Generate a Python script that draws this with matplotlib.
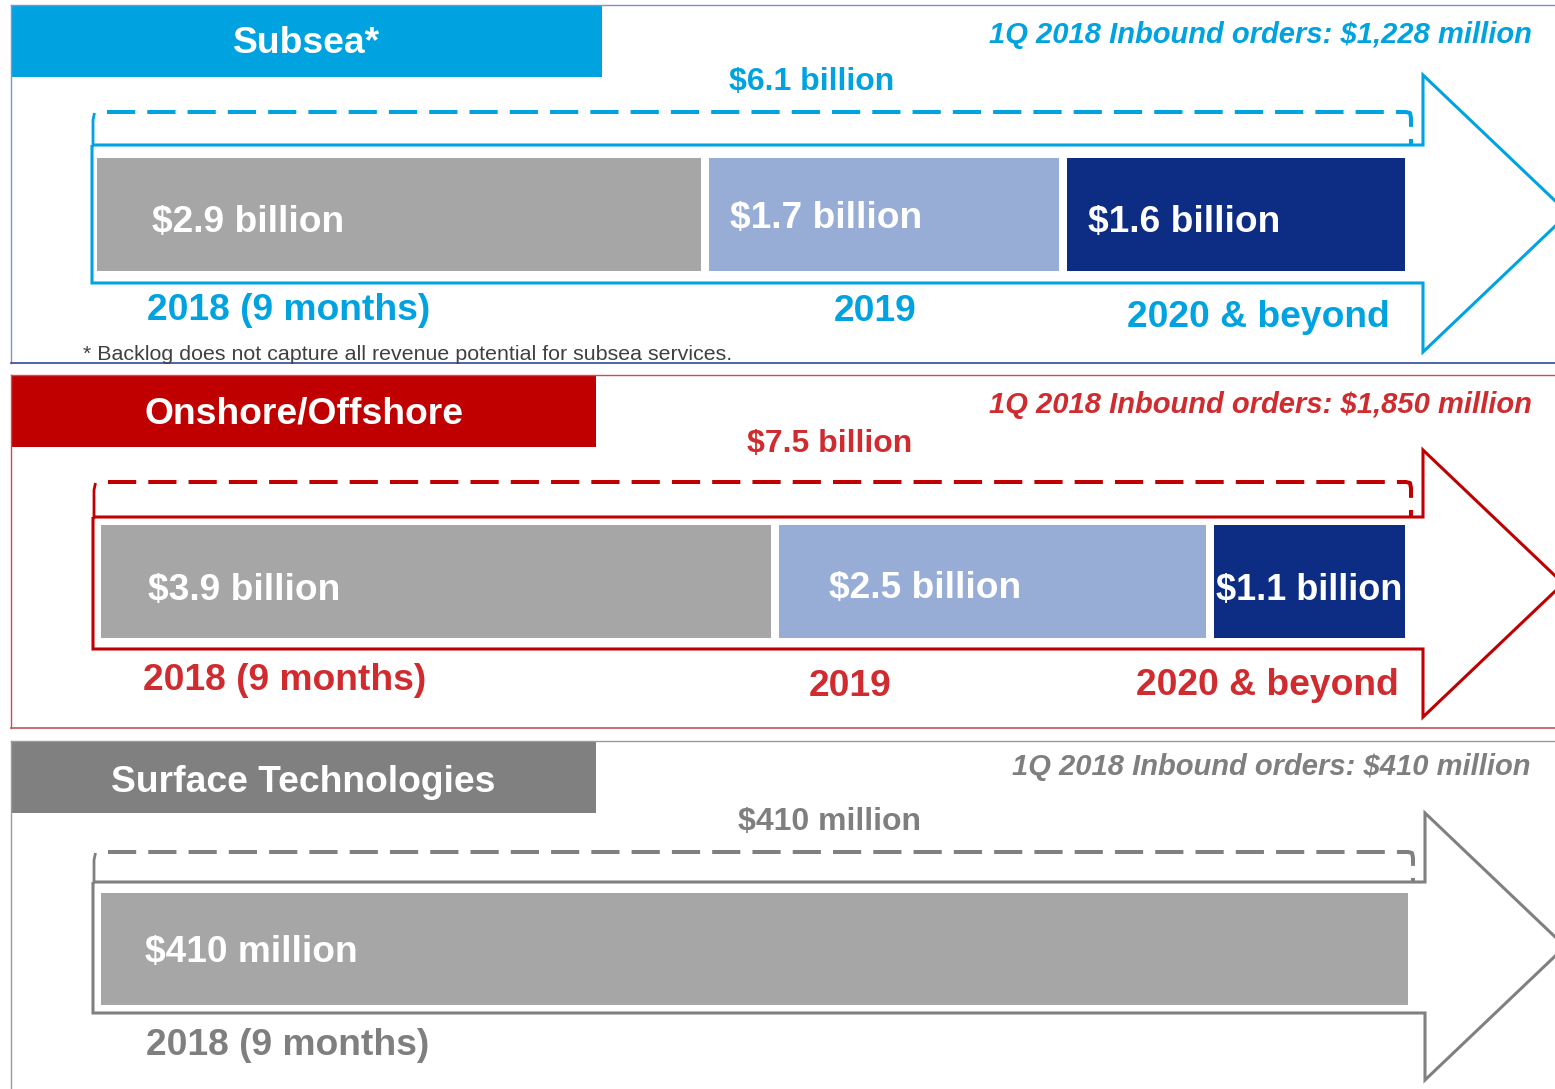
import numpy as np
import matplotlib.pyplot as plt
from matplotlib.patches import Polygon, Rectangle

plt.rcParams['font.family'] = ['Liberation Sans', 'DejaVu Sans']

# data
segments = ['Subsea*', 'Onshore/Offshore', 'Surface Technologies']
inbound_orders = ['$1,228 million', '$1,850 million', '$410 million']   # 1Q 2018
backlog_totals = ['$6.1 billion', '$7.5 billion', '$410 million']
subsea_backlog = [2.9, 1.7, 1.6]       # $ billion
onshore_backlog = [3.9, 2.5, 1.1]      # $ billion
surface_backlog = [410]                # $ million
subsea_periods = ['2018 (9 months)', '2019', '2020 & beyond']
onshore_periods = ['2018 (9 months)', '2019', '2020 & beyond']
surface_periods = ['2018 (9 months)']
footnote = '* Backlog does not capture all revenue potential for subsea services.'

bar_colors = ['#A6A6A6', '#98ADD5', '#0C2D83']

# layout in pixels (y grows downwards)
panels = [
    dict(values=subsea_backlog, unit='billion', periods=subsea_periods,
         color='#00A3E0', text_color='#00A3E0', frame=('#8093C8', '#2E4C9C'),
         frame_top=5, frame_bottom=363, header=(11, 602, 5, 77), header_base=53,
         inbound_base=43, inbound_x=1532, total_x=812, total_base=90,
         dash_y=112, body=(145, 283), head=(75, 352), arrow_x=(92, 1423),
         bar_y=(158, 271), bar_x=(97, 1405), label_base=[232, 228, 232],
         label_pad=[55, 21, 21], period_base=[320, 321, 327],
         period_x=[(147, 'left'), (875, 'center'), (1390, 'right')]),
    dict(values=onshore_backlog, unit='billion', periods=onshore_periods,
         color='#C00000', text_color='#D02B2F', frame=('#C8505A', '#C8505A'),
         frame_top=375, frame_bottom=728, header=(11, 596, 375, 447), header_base=423,
         inbound_base=413, inbound_x=1532, total_x=830, total_base=452,
         dash_y=482, body=(517, 649), head=(450, 717), arrow_x=(93, 1423),
         bar_y=(525, 638), bar_x=(101, 1405), label_base=[600, 598, 600],
         label_pad=[47, 50, None], period_base=[690, 696, 695],
         period_x=[(143, 'left'), (850, 'center'), (1399, 'right')]),
    dict(values=surface_backlog, unit='million', periods=surface_periods,
         color='#808080', text_color='#7F7F7F', frame=('#9A9A9A', None),
         frame_top=741, frame_bottom=1089, header=(11, 596, 742, 813), header_base=792,
         inbound_base=775, inbound_x=1530, total_x=830, total_base=830,
         dash_y=852, body=(882, 1013), head=(813, 1080), arrow_x=(93, 1425),
         bar_y=(893, 1005), bar_x=(101, 1408), label_base=[962],
         label_pad=[44], period_base=[1055],
         period_x=[(146, 'left')]),
]

fig = plt.figure(figsize=(15.55, 10.89), dpi=100)
ax = fig.add_axes([0, 0, 1, 1])
ax.set_xlim(0, 1555)
ax.set_ylim(1089, 0)
ax.axis('off')

gap = 8
for i, p in enumerate(panels):
    c = p['color']
    tc = p['text_color']

    # frame lines
    ax.plot([11, 1555], [p['frame_top'], p['frame_top']], color=p['frame'][0], lw=1)
    ax.plot([11, 11], [p['frame_top'], p['frame_bottom']], color=p['frame'][0], lw=1)
    if p['frame'][1]:
        ax.plot([11, 1555], [p['frame_bottom'], p['frame_bottom']], color=p['frame'][1], lw=1.2)

    # header tab
    x0, x1, y0, y1 = p['header']
    ax.add_patch(Rectangle((x0, y0), x1 - x0, y1 - y0, color=c, lw=0))
    ax.text((x0 + x1) / 2, p['header_base'], segments[i], color='white', fontsize=26.8,
            fontweight='bold', ha='center', va='baseline')

    ax.text(p['inbound_x'], p['inbound_base'], '1Q 2018 Inbound orders: ' + inbound_orders[i],
            color=tc, fontsize=21, fontweight='bold', fontstyle='italic',
            ha='right', va='baseline')
    ax.text(p['total_x'], p['total_base'], backlog_totals[i], color=tc, fontsize=23,
            fontweight='bold', ha='center', va='baseline')

    # arrow outline
    al, ash = p['arrow_x']
    bt, bb = p['body']
    ht, hb = p['head']
    tip = ash + (hb - ht) / 2 * 1.05
    pts = [(al, bt), (ash, bt), (ash, ht), (tip, (ht + hb) / 2), (ash, hb), (ash, bb), (al, bb)]
    ax.add_patch(Polygon(pts, closed=True, fill=False, edgecolor=c, lw=2.2, joinstyle='miter'))

    # dashed bracket over the bars
    dy = p['dash_y']
    dl, dr = al + 1, ash - 12
    ax.plot([dl, dl, dl + 1.5], [bt, dy + 8, dy + 1], color=c, lw=2.0,
            solid_capstyle='butt')
    dx = [dl + 14, dr - 5, dr - 1, dr, dr]
    dyy = [dy, dy, dy + 1, dy + 6, bt]
    ax.plot(dx, dyy, color=c, lw=2.9, linestyle=(0, (7, 3)), dash_capstyle='butt')

    # backlog bars, widths proportional to value
    vals = np.array(p['values'], dtype=float)
    bl, br = p['bar_x']
    scale = (br - bl) / vals.sum()
    lefts = bl + np.concatenate([[0], np.cumsum(vals)[:-1]]) * scale
    widths = vals * scale
    widths[:-1] -= gap
    by0, by1 = p['bar_y']
    ax.barh([(by0 + by1) / 2] * len(vals), widths, left=lefts, height=by1 - by0,
            color=bar_colors[:len(vals)], lw=0)

    for j, v in enumerate(p['values']):
        lab = f'${v:g} {p["unit"]}'
        pad = p['label_pad'][j]
        if pad is None:
            ax.text(lefts[j] + widths[j] / 2, p['label_base'][j], lab, color='white',
                    fontsize=26, fontweight='bold', ha='center', va='baseline')
        else:
            ax.text(lefts[j] + pad, p['label_base'][j], lab, color='white',
                    fontsize=26.7, fontweight='bold', ha='left', va='baseline')

    for j, per in enumerate(p['periods']):
        px, ha = p['period_x'][j]
        ax.text(px, p['period_base'][j], per, color=tc, fontsize=26.8,
                fontweight='bold', ha=ha, va='baseline')

ax.text(83, 360, footnote, color='#404040', fontsize=15.4, ha='left', va='baseline')

fig.savefig('out.png', dpi=100)
